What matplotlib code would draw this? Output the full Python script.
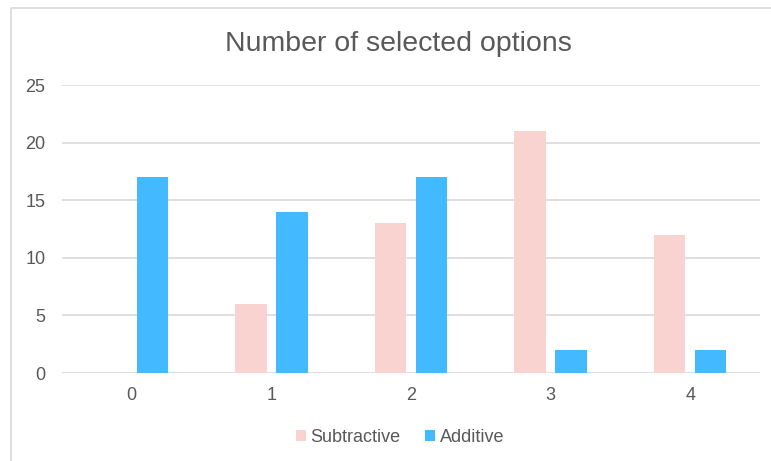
import matplotlib.pyplot as plt
from matplotlib.patches import Rectangle
import numpy as np

# Données du graphique
categories = ["0", "1", "2", "3", "4"]
subtractive = [0, 6, 13, 21, 12]
additive = [17, 14, 17, 2, 2]

plt.rcParams['font.family'] = ['Liberation Sans', 'DejaVu Sans']

fig = plt.figure(figsize=(7.71, 4.61), dpi=100)
ax = fig.add_axes([62 / 771, 1 - 373 / 461, 698 / 771, 288 / 461])

# cadre extérieur (coupé à droite et en bas)
fig.patches.append(Rectangle((11 / 771, -0.1), 1.2, 1 - 8 / 461 + 0.1,
                             transform=fig.transFigure, fill=False,
                             edgecolor='#d9d9d9', linewidth=1.2))

x = np.arange(len(categories))
bar_width = 0.225
ax.bar(x - 0.147, subtractive, width=bar_width, color='#F8D3CF', label='Subtractive', zorder=3)
ax.bar(x + 0.147, additive, width=bar_width, color='#43BAFF', label='Additive', zorder=3)

ax.set_xlim(-0.5, 4.5)
ax.set_ylim(0, 25)
ax.set_yticks(range(0, 26, 5))
ax.set_xticks(x)
ax.set_xticklabels(categories)
ax.grid(axis='y', color='#d9d9d9', linewidth=1.2, zorder=0)
for s in ax.spines.values():
    s.set_visible(False)
ax.tick_params(length=0, labelsize=13, labelcolor='#595959')
ax.tick_params(axis='y', pad=12)
ax.tick_params(axis='x', pad=10)

fig.text(398 / 771, 1 - 44 / 461, 'Number of selected options', ha='center', va='center',
         fontsize=20.5, color='#595959')

fig.legend(loc='center', bbox_to_anchor=(400 / 771, 1 - 437 / 461), ncol=2, frameon=False,
           fontsize=13, handlelength=0.55, handleheight=0.55, handletextpad=0.25,
           columnspacing=1.4, labelcolor='#595959')

plt.savefig('out.png', dpi=100)
